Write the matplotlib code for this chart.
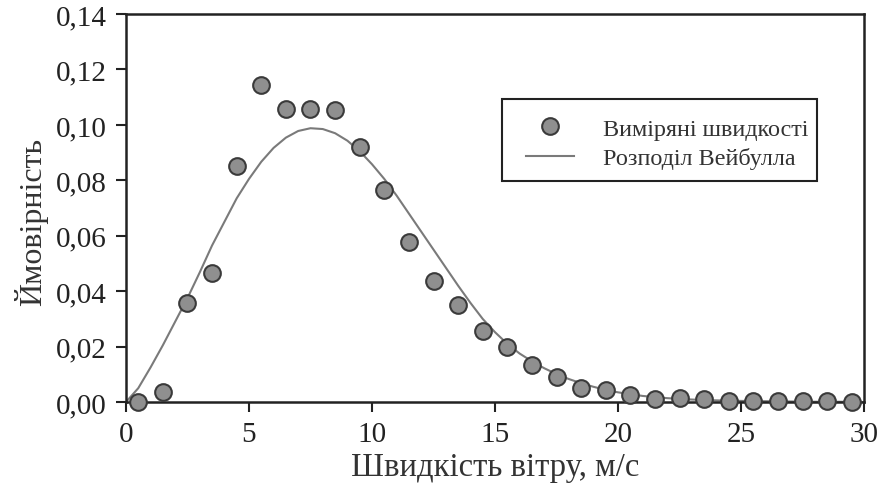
import matplotlib
matplotlib.use("Agg")
import matplotlib.pyplot as plt
from matplotlib.patches import Rectangle
from matplotlib.ticker import FuncFormatter

# measured wind speed frequencies (bin centres, m/s)
speed_bins = [0.5, 1.5, 2.5, 3.5, 4.5, 5.5, 6.5, 7.5, 8.5, 9.5,
              10.5, 11.5, 12.5, 13.5, 14.5, 15.5, 16.5, 17.5, 18.5, 19.5,
              20.5, 21.5, 22.5, 23.5, 24.5, 25.5, 26.5, 27.5, 28.5, 29.5]
measured_prob = [0.0000, 0.0035, 0.0357, 0.0466, 0.0852, 0.1143, 0.1057, 0.1058, 0.1054, 0.0919,
                 0.0765, 0.0576, 0.0438, 0.0350, 0.0257, 0.0198, 0.0133, 0.0089, 0.0050, 0.0043,
                 0.0025, 0.0010, 0.0013, 0.0010, 0.0004, 0.0004, 0.0003, 0.0002, 0.0004, 0.0000]

# Weibull curve
curve_speed = [0, 0.5, 1, 1.5, 2, 2.5, 3, 3.5, 4, 4.5,
               5, 5.5, 6, 6.5, 7, 7.5, 8, 8.5, 9, 9.5,
               10, 10.5, 11, 11.5, 12, 12.5, 13, 13.5, 14, 14.5,
               15, 15.5, 16, 16.5, 17, 17.5, 18, 18.5, 19, 19.5,
               20, 21, 22, 23, 24, 25, 26, 27, 28, 29, 30]
curve_prob = [0.0000, 0.0050, 0.0125, 0.0205, 0.0290, 0.0375, 0.0468, 0.0565, 0.0650, 0.0735,
              0.0805, 0.0867, 0.0917, 0.0954, 0.0978, 0.0988, 0.0985, 0.0970, 0.0943, 0.0905,
              0.0858, 0.0805, 0.0745, 0.0680, 0.0615, 0.0550, 0.0485, 0.0420, 0.0358, 0.0300,
              0.0252, 0.0210, 0.0175, 0.0147, 0.0122, 0.0101, 0.0083, 0.0068, 0.0055, 0.0044,
              0.0035, 0.0022, 0.0014, 0.0009, 0.0006, 0.0004, 0.0003, 0.0002, 0.0001, 0.0001, 0.0000]

x_ticks = [0, 5, 10, 15, 20, 25, 30]
y_ticks = [0.00, 0.02, 0.04, 0.06, 0.08, 0.10, 0.12, 0.14]

plt.rcParams['font.family'] = ['Liberation Serif', 'DejaVu Serif']

fig = plt.figure(figsize=(8.79, 4.85), dpi=100)
ax = fig.add_axes([0.1433, 0.169, 0.8397, 0.8])

ax.plot(speed_bins, measured_prob, linestyle='none', marker='o', markersize=12,
        markerfacecolor='#8f8f8f', markeredgecolor='#3a3a3a', markeredgewidth=1.5,
        label='Виміряні швидкості', zorder=3, clip_on=False)
ax.plot(curve_speed, curve_prob, color='#7a7a7a', linewidth=1.5,
        label='Розподіл Вейбулла', zorder=2)

ax.set_xlim(0, 30)
ax.set_ylim(0, 0.14)
ax.set_xticks(x_ticks)
ax.set_yticks(y_ticks)
ax.yaxis.set_major_formatter(FuncFormatter(lambda v, p: f'{v:.2f}'.replace('.', ',')))
ax.tick_params(axis='both', direction='out', length=7, width=1.5, labelsize=21,
               colors='#222222')
ax.tick_params(axis='y', pad=7)
ax.tick_params(axis='x', pad=7)
for side in ax.spines.values():
    side.set_linewidth(1.8)
    side.set_color('#222222')

ax.set_xlabel('Швидкість вітру, м/с', fontsize=23.5, color='#333333', labelpad=3)
ax.set_ylabel('Ймовірність', fontsize=23, color='#333333')
ax.yaxis.set_label_coords(-0.106, 0.466)

# legend frame drawn separately so the padding matches the original
ax.add_patch(Rectangle((0.509, 0.570), 0.427, 0.211, transform=ax.transAxes,
                       facecolor='white', edgecolor='#222222', linewidth=1.5, zorder=4))
leg = ax.legend(loc='upper left', bbox_to_anchor=(0.5203, 0.773), borderaxespad=0,
                fontsize=17.4, frameon=False, handlelength=2.0, handletextpad=1.2,
                borderpad=0.65, labelspacing=0.3)
leg.set_zorder(5)
for t in leg.get_texts():
    t.set_color('#333333')

fig.savefig('out.png', dpi=100, facecolor='white')
